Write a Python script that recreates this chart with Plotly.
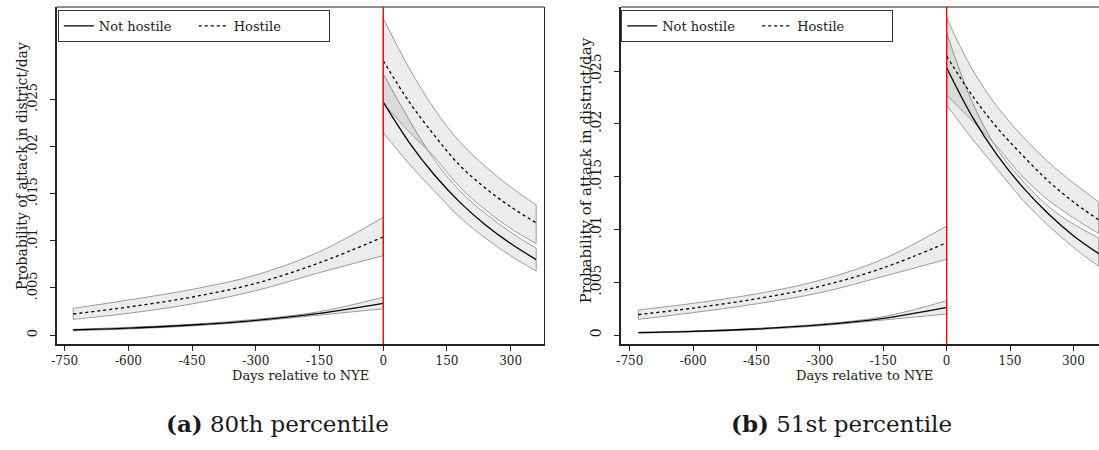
import plotly.graph_objects as go

# ---------------- data ----------------
pre_days = [-730, -600, -450, -300, -150, 0]
post_days = [0, 60, 120, 180, 240, 300, 360]

x_ticks = [-750, -600, -450, -300, -150, 0, 150, 300]
x_ticktext = ["-750", "-600", "-450", "-300", "-150", "0", "150", "300"]
y_ticks = [0, 0.005, 0.01, 0.015, 0.02, 0.025]
y_ticktext = ["0", ".005", ".01", ".015", ".02", ".025"]

series_names = ["Not hostile", "Hostile"]

# Panel (a): 80th percentile
a_pre_nh = [0.00053, 0.00073, 0.00106, 0.00156, 0.00230, 0.00336]
a_pre_nh_hi = [0.00060, 0.00082, 0.00115, 0.00166, 0.00248, 0.00400]
a_pre_nh_lo = [0.00045, 0.00064, 0.00096, 0.00145, 0.00212, 0.00278]
a_pre_h = [0.00223, 0.00297, 0.00403, 0.00548, 0.00767, 0.01040]
a_pre_h_hi = [0.00283, 0.00371, 0.00484, 0.00636, 0.00884, 0.01248]
a_pre_h_lo = [0.00166, 0.00230, 0.00330, 0.00470, 0.00662, 0.00842]
a_post_nh = [0.0247, 0.0205, 0.0170, 0.0141, 0.0117, 0.0097, 0.0080]
a_post_nh_hi = [0.0277, 0.0229, 0.0186, 0.0153, 0.0129, 0.0109, 0.0092]
a_post_nh_lo = [0.0215, 0.0182, 0.0153, 0.0125, 0.0103, 0.0084, 0.0068]
a_post_h = [0.0291, 0.0248, 0.0212, 0.0180, 0.0156, 0.0136, 0.0119]
a_post_h_hi = [0.0336, 0.0284, 0.0240, 0.0205, 0.0179, 0.0157, 0.0138]
a_post_h_lo = [0.0246, 0.0216, 0.0189, 0.0157, 0.0133, 0.0113, 0.0097]

# Panel (b): 51st percentile
b_pre_nh = [0.00022, 0.00034, 0.00057, 0.00095, 0.00158, 0.00262]
b_pre_nh_hi = [0.00026, 0.00039, 0.00063, 0.00103, 0.00173, 0.00325]
b_pre_nh_lo = [0.00019, 0.00030, 0.00051, 0.00087, 0.00142, 0.00199]
b_pre_h = [0.00193, 0.00255, 0.00343, 0.00460, 0.00636, 0.00874]
b_pre_h_hi = [0.00237, 0.00300, 0.00390, 0.00518, 0.00720, 0.01032]
b_pre_h_lo = [0.00148, 0.00212, 0.00295, 0.00400, 0.00555, 0.00717]
b_post_nh = [0.0253, 0.0207, 0.0170, 0.0140, 0.0115, 0.0094, 0.0077]
b_post_nh_hi = [0.0286, 0.0221, 0.0176, 0.0146, 0.0122, 0.0105, 0.0092]
b_post_nh_lo = [0.0218, 0.0186, 0.0157, 0.0128, 0.0104, 0.0083, 0.0065]
b_post_h = [0.0264, 0.0227, 0.0196, 0.0170, 0.0146, 0.0126, 0.0109]
b_post_h_hi = [0.0300, 0.0252, 0.0216, 0.0188, 0.0164, 0.0144, 0.0126]
b_post_h_lo = [0.0227, 0.0203, 0.0178, 0.0150, 0.0128, 0.0111, 0.0096]

captions = ["<b>(a)</b> 80th percentile", "<b>(b)</b> 51st percentile"]
x_title = "Days relative to NYE"
y_title = "Probability of attack in district/day"

# ---------------- style ----------------
FONT = "'DejaVu Serif', serif"
TXT = "#1a1a1a"
BAND_FILL = "rgba(0,0,0,0.075)"
BAND_LINE = "rgb(155,155,155)"
W, H = 1099, 450
SM = 1.0

fig = go.Figure()

panels = [
    dict(xa="x", ya="y", legend="legend",
         pre=[(a_pre_nh, a_pre_nh_lo, a_pre_nh_hi), (a_pre_h, a_pre_h_lo, a_pre_h_hi)],
         post=[(a_post_nh, a_post_nh_lo, a_post_nh_hi), (a_post_h, a_post_h_lo, a_post_h_hi)]),
    dict(xa="x2", ya="y2", legend="legend2",
         pre=[(b_pre_nh, b_pre_nh_lo, b_pre_nh_hi), (b_pre_h, b_pre_h_lo, b_pre_h_hi)],
         post=[(b_post_nh, b_post_nh_lo, b_post_nh_hi), (b_post_h, b_post_h_lo, b_post_h_hi)]),
]

dashes = ["solid", "3px,3px"]

for p in panels:
    for days, groups in ((pre_days, p["pre"]), (post_days, p["post"])):
        for (m, lo, hi) in groups:
            fig.add_trace(go.Scatter(x=days, y=lo, mode="lines", xaxis=p["xa"], yaxis=p["ya"],
                                     line=dict(color=BAND_LINE, width=1, shape="spline", smoothing=SM),
                                     showlegend=False, hoverinfo="skip"))
            fig.add_trace(go.Scatter(x=days, y=hi, mode="lines", xaxis=p["xa"], yaxis=p["ya"],
                                     fill="tonexty", fillcolor=BAND_FILL,
                                     line=dict(color=BAND_LINE, width=1, shape="spline", smoothing=SM),
                                     showlegend=False, hoverinfo="skip"))
    for days, groups in ((pre_days, p["pre"]), (post_days, p["post"])):
        for (m, lo, hi) in groups:
            fig.add_trace(go.Scatter(x=[days[0], days[0], None, days[-1], days[-1]],
                                     y=[lo[0], hi[0], None, lo[-1], hi[-1]],
                                     mode="lines", xaxis=p["xa"], yaxis=p["ya"],
                                     line=dict(color=BAND_LINE, width=1),
                                     showlegend=False, hoverinfo="skip"))
    for k in range(2):
        for j, (days, groups) in enumerate(((pre_days, p["pre"]), (post_days, p["post"]))):
            m = groups[k][0]
            fig.add_trace(go.Scatter(x=days, y=m, mode="lines", xaxis=p["xa"], yaxis=p["ya"],
                                     line=dict(color="black", width=1.3, dash=dashes[k],
                                               shape="spline", smoothing=SM),
                                     name=series_names[k], legend=p["legend"],
                                     showlegend=(j == 0), hoverinfo="skip"))

ydom = [(H - 344) / H, (H - 7) / H]
axis_common = dict(showgrid=False, zeroline=False, showline=True, linewidth=1.6, linecolor="#222",
                   ticks="outside", ticklen=5, tickwidth=1, tickcolor="#222")

legend_common = dict(yanchor="top", xanchor="left", orientation="h", traceorder="normal",
                     bordercolor="#333", borderwidth=1, bgcolor="white",
                     font=dict(family=FONT, size=13, color=TXT),
                     entrywidth=90, entrywidthmode="pixels")

fig.update_layout(
    width=W, height=H, margin=dict(l=0, r=0, t=0, b=0),
    paper_bgcolor="white", plot_bgcolor="white",
    font=dict(family=FONT, color=TXT),
    xaxis=dict(domain=[52 / W, 542 / W], range=[-768.75, 379.7], anchor="y",
               tickvals=x_ticks, ticktext=x_ticktext,
               tickfont=dict(family=FONT, size=12, color=TXT), ticklabelstandoff=0, **axis_common),
    yaxis=dict(domain=ydom, range=[-0.000955, 0.0348], anchor="x",
               tickvals=y_ticks, ticktext=y_ticktext, tickangle=-90,
               tickfont=dict(family=FONT, size=13, color=TXT), ticklabelstandoff=8, **axis_common),
    xaxis2=dict(domain=[619 / W, 1.0], range=[-770.5, 360.6], anchor="y2",
                tickvals=x_ticks, ticktext=x_ticktext,
                tickfont=dict(family=FONT, size=12, color=TXT), ticklabelstandoff=0, **axis_common),
    yaxis2=dict(domain=ydom, range=[-0.000852, 0.03106], anchor="x2",
                tickvals=y_ticks, ticktext=y_ticktext, tickangle=-90,
                tickfont=dict(family=FONT, size=14, color=TXT), ticklabelstandoff=8, **axis_common),
    legend=dict(x=53 / W, y=(H - 10) / H, **legend_common),
    legend2=dict(x=619 / W, y=(H - 10) / H, **legend_common),
)

shapes = []
for xa, ya, right in (("x", "y", True), ("x2", "y2", False)):
    shapes.append(dict(type="line", xref=xa, yref=ya + " domain", x0=0, x1=0, y0=0, y1=1,
                       line=dict(color="red", width=1.4), layer="above"))
    shapes.append(dict(type="line", xref=xa + " domain", yref=ya + " domain", x0=0, x1=1, y0=1, y1=1,
                       line=dict(color="#222", width=1)))
    if right:
        shapes.append(dict(type="line", xref=xa + " domain", yref=ya + " domain", x0=1, x1=1, y0=0, y1=1,
                           line=dict(color="#222", width=1)))
fig.update_layout(shapes=shapes)

ann = []
for cx in (297, 863):
    ann.append(dict(text=x_title, xref="paper", yref="paper", x=cx / W, y=(H - 375) / H,
                    xanchor="center", yanchor="middle", showarrow=False,
                    font=dict(family=FONT, size=13, color=TXT)))
ann.append(dict(text=y_title, xref="paper", yref="paper", x=17 / W, y=(H - 166) / H,
                xanchor="center", yanchor="middle", textangle=-90, showarrow=False,
                font=dict(family=FONT, size=14, color=TXT)))
ann.append(dict(text=y_title, xref="paper", yref="paper", x=584 / W, y=(H - 170) / H,
                xanchor="center", yanchor="middle", textangle=-90, showarrow=False,
                font=dict(family=FONT, size=15, color=TXT)))
for cx, cap in zip((274, 840), captions):
    ann.append(dict(text=cap, xref="paper", yref="paper", x=cx / W, y=(H - 423) / H,
                    xanchor="center", yanchor="middle", showarrow=False,
                    font=dict(family=FONT, size=23, color=TXT)))
fig.update_layout(annotations=ann)

fig.write_html("out.html")
